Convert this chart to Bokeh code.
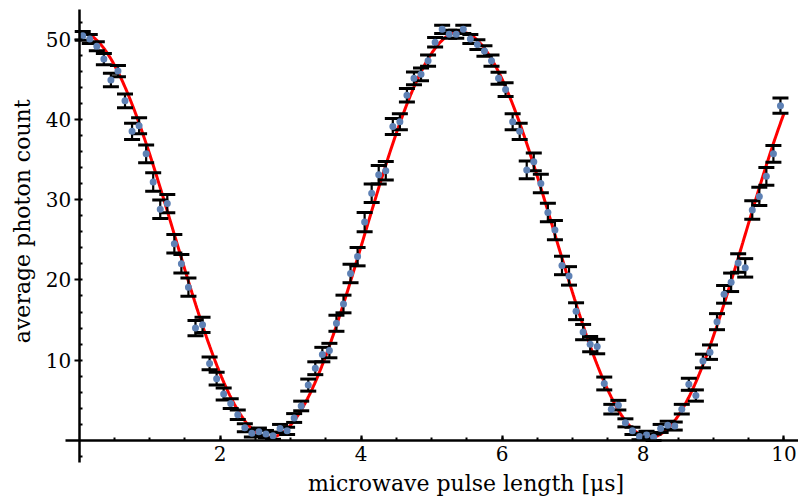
import numpy as np
import pandas as pd
from bokeh.plotting import figure
from bokeh.models import LinearAxis, FixedTicker, Label, Range1d, ColumnDataSource, Grid
from bokeh.embed import file_html
from bokeh.resources import INLINE

# ---------------- data ----------------
pulse_length = np.round(np.arange(0.05, 10.0, 0.1), 2)  # microwave pulse length [µs]

photon_count = [
    50.4, 50.0, 49.1, 47.5, 44.9, 46.0, 42.3, 38.5, 39.2, 35.7,
    32.2, 28.8, 29.5, 24.5, 22.0, 19.1, 14.0, 14.4, 9.6, 7.7,
    5.8, 4.6, 3.2, 1.6, 0.9, 1.1, 0.8, 0.6, 1.5, 1.2,
    2.8, 4.3, 6.9, 9.0, 10.7, 11.2, 14.6, 17.0, 20.8, 22.9,
    27.2, 30.8, 33.1, 33.6, 39.1, 39.7, 43.0, 45.1, 45.6, 47.3,
    49.6, 51.2, 50.6, 50.6, 51.2, 50.0, 49.3, 48.5, 47.3, 45.1,
    43.7, 39.7, 38.5, 33.7, 34.7, 32.0, 28.4, 26.2, 21.8, 20.5,
    16.1, 13.5, 12.0, 11.7, 7.1, 3.9, 4.4, 2.2, 1.2, 0.5,
    0.7, 0.4, 1.5, 1.9, 1.8, 3.9, 7.0, 5.6, 9.9, 11.0,
    14.8, 18.2, 19.7, 22.1, 21.5, 28.7, 30.4, 32.9, 35.7, 41.7,
]

count_error = [
    0.55, 0.55, 0.55, 0.7, 0.85, 0.7, 0.85, 1.0, 1.0, 1.1,
    1.15, 1.15, 1.15, 1.15, 1.15, 1.15, 0.95, 0.95, 0.8, 0.8,
    0.75, 0.6, 0.6, 0.5, 0.45, 0.45, 0.45, 0.45, 0.5, 0.45,
    0.55, 0.6, 0.75, 0.8, 0.9, 0.9, 1.0, 1.1, 1.15, 1.15,
    1.2, 1.15, 1.15, 1.15, 1.0, 1.0, 0.85, 0.8, 0.8, 0.7,
    0.6, 0.5, 0.5, 0.5, 0.5, 0.55, 0.6, 0.65, 0.7, 0.75,
    0.85, 1.0, 1.0, 1.1, 1.1, 1.15, 1.15, 1.2, 1.15, 1.15,
    1.05, 0.95, 0.95, 0.9, 0.8, 0.6, 0.6, 0.5, 0.45, 0.4,
    0.45, 0.4, 0.5, 0.5, 0.5, 0.6, 0.75, 0.7, 0.85, 0.9,
    1.0, 1.1, 1.15, 1.15, 1.15, 1.15, 1.15, 1.1, 1.05, 0.95,
]

# fitted Rabi oscillation parameters
fit_offset = 0.4
fit_amplitude = 50.5
fit_period = 5.40  # µs
fit_start, fit_stop = 0.0, 10.0

x_ticks = [2, 4, 6, 8, 10]
x_minor_ticks = [0.5, 1, 1.5, 2, 2.5, 3, 3.5, 4, 4.5, 5, 5.5, 6, 6.5, 7, 7.5, 8, 8.5, 9, 9.5, 10]
y_ticks = [10, 20, 30, 40, 50]
y_minor_ticks = [-2, 2, 4, 6, 8, 10, 12, 14, 16, 18, 20, 22, 24, 26, 28, 30,
                 32, 34, 36, 38, 40, 42, 44, 46, 48, 50, 52]

x_label = "microwave pulse length [μs]"
y_label = "average photon count"

# ---------------- build sources ----------------
df = pd.DataFrame({"x": pulse_length, "y": photon_count, "err": count_error})
df["lower"] = df["y"] - df["err"]
df["upper"] = df["y"] + df["err"]
src = ColumnDataSource(df)

fx = np.linspace(fit_start, fit_stop, 600)
fy = fit_offset + fit_amplitude * (1 + np.cos(2 * np.pi * fx / fit_period)) / 2
fit_src = ColumnDataSource({"x": fx, "y": fy})

# ---------------- figure ----------------
# the frame fills the whole canvas; the axes are drawn through the origin
p = figure(width=798, height=498, output_backend="svg", toolbar_location=None,
           x_range=Range1d(-1.1166, 10.206), y_range=Range1d(-7.223, 54.795),
           x_axis_location=None, y_axis_location=None,
           min_border_left=0, min_border_right=0, min_border_top=0, min_border_bottom=0)
p.outline_line_color = None
p.background_fill_color = "white"
p.border_fill_color = "white"
for r in p.center:
    if isinstance(r, Grid):
        r.visible = False

FONT = "DejaVu Serif"

xaxis = LinearAxis(fixed_location=0, bounds=(-0.2, 10.2),
                   ticker=FixedTicker(ticks=x_ticks, minor_ticks=x_minor_ticks))
yaxis = LinearAxis(fixed_location=0, bounds=(-2.75, 53.67),
                   ticker=FixedTicker(ticks=y_ticks, minor_ticks=y_minor_ticks))
for ax in (xaxis, yaxis):
    ax.axis_line_width = 2.5
    ax.axis_line_color = "black"
    ax.major_tick_line_width = 2.2
    ax.minor_tick_line_width = 2.0
    ax.major_tick_line_color = "black"
    ax.minor_tick_line_color = "black"
    ax.major_label_text_font = FONT
    ax.major_label_text_font_size = "20px"
    ax.major_label_text_color = "black"
xaxis.major_tick_in = 5
xaxis.major_tick_out = 0
xaxis.minor_tick_in = 3
xaxis.minor_tick_out = 0
xaxis.major_label_standoff = 6
yaxis.major_tick_in = 0
yaxis.major_tick_out = 5
yaxis.minor_tick_in = 3
yaxis.minor_tick_out = 0
yaxis.major_label_standoff = 3
p.add_layout(xaxis, "below")
p.add_layout(yaxis, "left")

# fit curve
p.line("x", "y", source=fit_src, line_color="#ff0000", line_width=3)
# error bars
p.segment(x0="x", y0="lower", x1="x", y1="upper", source=src,
          line_color="black", line_width=2.2)
p.scatter("x", "upper", source=src, marker="dash", size=16,
          line_color="black", line_width=3)
p.scatter("x", "lower", source=src, marker="dash", size=16,
          line_color="black", line_width=3)
# data points
p.scatter("x", "y", source=src, marker="circle", size=7,
          fill_color="#5E81B5", line_color=None)

# axis labels
p.add_layout(Label(x=5.49, y=-5.35, text=x_label, text_align="center",
                   text_baseline="middle", text_font=FONT,
                   text_font_size="22px", text_color="black"))
p.add_layout(Label(x=-0.80, y=27.3, text=y_label, text_align="center",
                   text_baseline="middle", angle=np.pi / 2, text_font=FONT,
                   text_font_size="22px", text_color="black"))

open("out.html", "w").write(file_html(p, INLINE))
